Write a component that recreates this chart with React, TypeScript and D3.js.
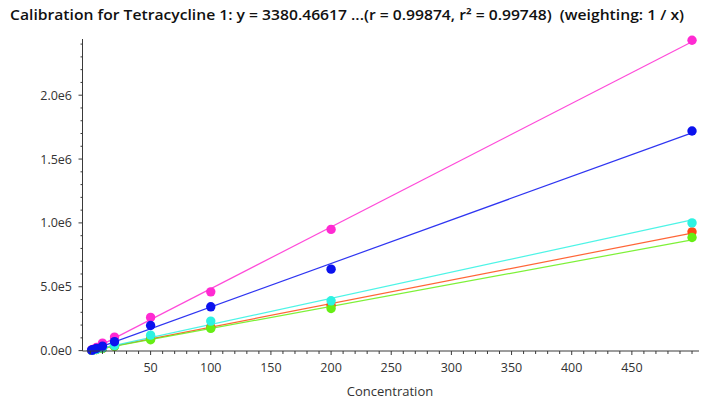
import React from "react";
import * as d3 from "d3";

// Calibration levels (concentration) shared by every replicate series
const concentrations = [1, 2, 5, 10, 20, 50, 100, 200, 500];

// Peak responses per replicate series
const seriesMagenta = [4900, 9800, 24500, 59000, 106000, 260000, 460000, 949000, 2430000];
const seriesBlue = [3500, 7000, 17000, 35000, 70000, 197000, 343000, 638000, 1720000];
const seriesCyan = [2000, 4000, 10000, 21000, 40000, 121000, 231000, 390000, 1000000];
const seriesRed = [1800, 3700, 9000, 18000, 36000, 95000, 185000, 355000, 930000];
const seriesGreen = [1700, 3400, 8500, 17000, 33000, 85000, 174000, 330000, 886000];

const xTickValues = [50, 100, 150, 200, 250, 300, 350, 400, 450];
const yTickValues = [0, 500000, 1000000, 1500000, 2000000];

const titleText =
  "Calibration for Tetracycline 1: y = 3380.46617 ...(r = 0.99874, r\u00B2 = 0.99748)  (weighting: 1 / x)";
const xAxisTitle = "Concentration";

// draw order: later series sit on top
const series = [
  { name: "red", color: "#ff4a14", values: seriesRed },
  { name: "green", color: "#66ee14", values: seriesGreen },
  { name: "cyan", color: "#2ef2e2", values: seriesCyan },
  { name: "magenta", color: "#ff2ad2", values: seriesMagenta },
  { name: "blue", color: "#0b12ee", values: seriesBlue },
];

// Weighted (1/x) least-squares straight line
function weightedFit(xs: number[], ys: number[]) {
  let sw = 0, sx = 0, sy = 0, sxx = 0, sxy = 0;
  xs.forEach((x, i) => {
    const w = 1 / x;
    sw += w;
    sx += w * x;
    sy += w * ys[i];
    sxx += w * x * x;
    sxy += w * x * ys[i];
  });
  const slope = (sw * sxy - sx * sy) / (sw * sxx - sx * sx);
  const intercept = (sy - slope * sx) / sw;
  return { slope, intercept };
}

const W = 709;
const H = 400;
const plotLeft = 82.5;
const plotRight = 699;
const plotTop = 39;
const plotBottom = 351;

const fontFamily = "'Open Sans', 'Noto Sans', 'DejaVu Sans', sans-serif";

export default function App() {
  const x = d3.scaleLinear().domain([-6.6, 505.8]).range([plotLeft, plotRight]);
  const y = d3.scaleLinear().domain([-3000, 2440000]).range([plotBottom, plotTop]);

  const fmtY = (v: number) =>
    v === 0 ? "0.0e0" : d3.format(".1e")(v).replace("+", "");

  const xMinor = d3.range(0, 501, 10).filter((v) => v % 50 !== 0 || v === 0 || v === 500);
  const yMinor = d3.range(0, 2400001, 100000).filter((v) => v % 500000 !== 0);

  const xMin = d3.min(concentrations) as number;
  const xMax = d3.max(concentrations) as number;

  return (
    <svg
      width={W}
      height={H}
      style={{ position: "absolute", left: 0, top: 0, background: "#fff" }}
      fontFamily={fontFamily}
    >
      <text
        x={10}
        y={20}
        fontSize={13.5}
        fontWeight={600}
        fill="#111"
        textLength={674}
        lengthAdjust="spacingAndGlyphs"
        style={{ whiteSpace: "pre" }}
      >
        {titleText}
      </text>

      {/* regression lines */}
      {series.map((s) => {
        const { slope, intercept } = weightedFit(concentrations, s.values);
        const pts = [xMin, xMax];
        const path = d3
          .line<number>()
          .x((c) => x(c))
          .y((c) => y(slope * c + intercept))(pts);
        return (
          <path
            key={`l-${s.name}`}
            d={path || ""}
            fill="none"
            stroke={s.color}
            strokeWidth={1.2}
            opacity={0.85}
          />
        );
      })}

      {/* calibration points */}
      {series.map((s) => (
        <g key={`p-${s.name}`}>
          {concentrations.map((c, i) => (
            <circle
              key={i}
              cx={x(c)}
              cy={y(s.values[i])}
              r={4.7}
              fill={s.color}
            />
          ))}
        </g>
      ))}

      {/* axes */}
      <g stroke="#3a3a3a" strokeWidth={1}>
        <line x1={plotLeft} x2={plotLeft} y1={plotTop} y2={plotBottom} />
        <line x1={plotLeft} x2={plotRight} y1={plotBottom} y2={plotBottom} />
        {xMinor.map((v) => (
          <line key={`xm-${v}`} x1={x(v)} x2={x(v)} y1={plotBottom} y2={plotBottom + 3} />
        ))}
        {xTickValues.map((v) => (
          <line key={`xt-${v}`} x1={x(v)} x2={x(v)} y1={plotBottom} y2={plotBottom + 4} />
        ))}
        {yMinor.map((v) => (
          <line key={`ym-${v}`} x1={plotLeft - 2} x2={plotLeft} y1={y(v)} y2={y(v)} />
        ))}
        {yTickValues.map((v) => (
          <line key={`yt-${v}`} x1={plotLeft - 4} x2={plotLeft} y1={y(v)} y2={y(v)} />
        ))}
      </g>

      <g fontSize={12.5} fill="#333">
        {xTickValues.map((v) => (
          <text key={`xl-${v}`} x={x(v)} y={372} textAnchor="middle">
            {v}
          </text>
        ))}
        {yTickValues.map((v) => (
          <text key={`yl-${v}`} x={72} y={y(v) + 4.5} textAnchor="end">
            {fmtY(v)}
          </text>
        ))}
      </g>

      <text x={390} y={396} fontSize={13} fill="#333" textAnchor="middle">
        {xAxisTitle}
      </text>
    </svg>
  );
}
